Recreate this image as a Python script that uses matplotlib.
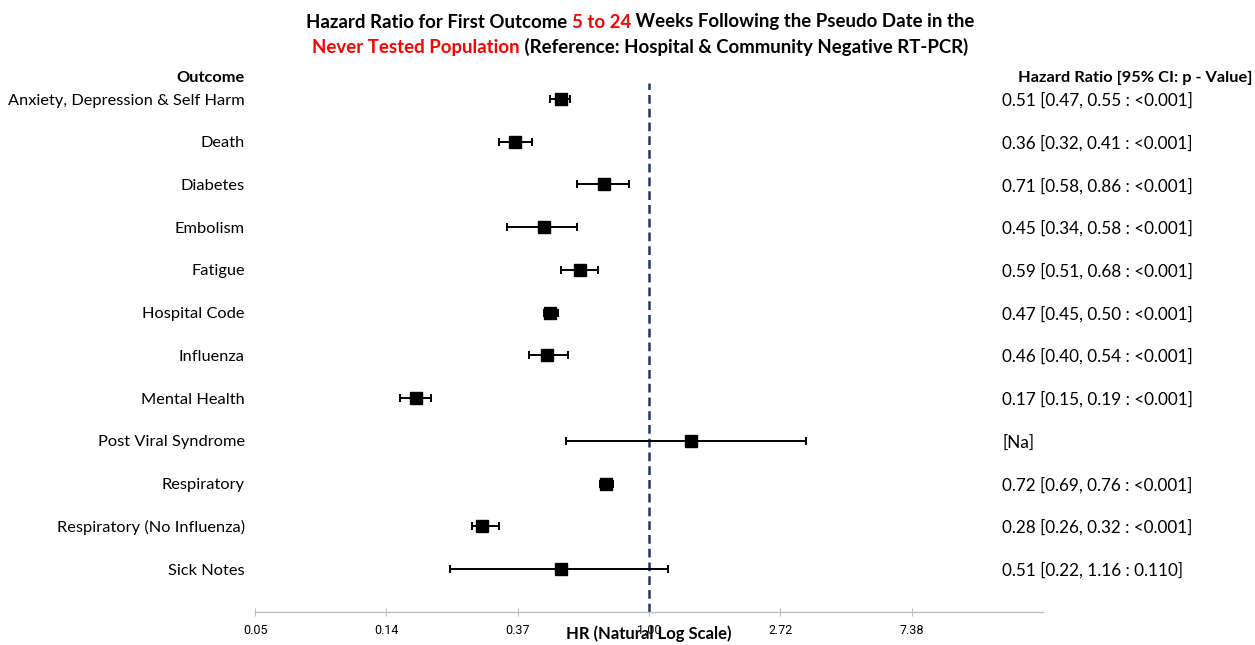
import numpy as np
import matplotlib
matplotlib.use("Agg")
import matplotlib.pyplot as plt

outcomes = ["Anxiety, Depression & Self Harm", "Death", "Diabetes", "Embolism", "Fatigue",
            "Hospital Code", "Influenza", "Mental Health", "Post Viral Syndrome",
            "Respiratory", "Respiratory (No Influenza)", "Sick Notes"]
hr = [0.51, 0.36, 0.71, 0.45, 0.59, 0.47, 0.46, 0.17, 1.38, 0.72, 0.28, 0.51]
ci_low = [0.47, 0.32, 0.58, 0.34, 0.51, 0.45, 0.40, 0.15, 0.53, 0.69, 0.26, 0.22]
ci_high = [0.55, 0.41, 0.86, 0.58, 0.68, 0.50, 0.54, 0.19, 3.30, 0.76, 0.32, 1.16]
right_labels = ["0.51 [0.47, 0.55 : <0.001]", "0.36 [0.32, 0.41 : <0.001]",
                "0.71 [0.58, 0.86 : <0.001]", "0.45 [0.34, 0.58 : <0.001]",
                "0.59 [0.51, 0.68 : <0.001]", "0.47 [0.45, 0.50 : <0.001]",
                "0.46 [0.40, 0.54 : <0.001]", "0.17 [0.15, 0.19 : <0.001]",
                "[Na]", "0.72 [0.69, 0.76 : <0.001]", "0.28 [0.26, 0.32 : <0.001]",
                "0.51 [0.22, 1.16 : 0.110]"]
tick_logs = [-3, -2, -1, 0, 1, 2]
tick_labels = ["0.05", "0.14", "0.37", "1.00", "2.72", "7.38"]

plt.rcParams['font.family'] = ['Lato', 'DejaVu Sans']

W, H = 1255, 645
fig = plt.figure(figsize=(W / 100, H / 100), dpi=100)
ax_left, ax_right = 255 / W, 1043 / W
ax_bottom, ax_top = 1 - 612 / H, 1 - 83 / H
ax = fig.add_axes([ax_left, ax_bottom, ax_right - ax_left, ax_top - ax_bottom])

n = len(outcomes)
row_px = 42.73
y0_px = 99
y_top = -(y0_px - 83) / row_px
y_bot = (612 - y0_px) / row_px
ax.set_ylim(y_bot, y_top)
ax.set_xlim(-3, 3)

ys = np.arange(n)
lx = np.log(hr)
lo = np.log(ci_low)
hi = np.log(ci_high)
ax.errorbar(lx, ys, xerr=[lx - lo, hi - lx], fmt='s', color='black', ecolor='black',
            markersize=9, elinewidth=1.4, capsize=3, capthick=1.4, zorder=3)
ax.axvline(0, color='#1f3864', lw=1.8, ls=(0, (3.5, 2)), zorder=2)

for s in ['top', 'right', 'left']:
    ax.spines[s].set_visible(False)
ax.spines['bottom'].set_color('#bfbfbf')
ax.spines['bottom'].set_linewidth(1)
ax.set_yticks([])
ax.set_xticks(tick_logs)
ax.set_xticklabels(tick_labels, fontsize=9, family=['Liberation Sans Narrow', 'Roboto', 'DejaVu Sans'])
ax.tick_params(axis='x', direction='inout', length=6, color='#bfbfbf', pad=6)
ax.set_xlabel("HR (Natural Log Scale)", fontsize=12, fontweight='bold', labelpad=-9)

for i, (name, rl) in enumerate(zip(outcomes, right_labels)):
    yf = 1 - (y0_px + 1.5 + i * row_px) / H
    fig.text(245 / W, yf, name, ha='right', va='center', fontsize=11.8)
    fig.text(1002 / W, yf, rl, ha='left', va='center', fontsize=12.3)

fig.text(245 / W, 1 - 78 / H, "Outcome", ha='right', va='center', fontsize=11.8, fontweight='bold')
fig.text(1018 / W, 1 - 78 / H, "Hazard Ratio [95% CI: p - Value]", ha='left', va='center',
         fontsize=11.8, fontweight='bold')

renderer = fig.canvas.get_renderer()
def colored_line(parts, yfrac, cx_px=640, fs=13.4):
    texts = []
    widths = []
    for s, c in parts:
        t = fig.text(0, yfrac, s, color=c, fontsize=fs, fontweight='bold', ha='left', va='center')
        bb = t.get_window_extent(renderer=renderer)
        texts.append(t)
        widths.append(bb.width)
    total = sum(widths)
    x = cx_px - total / 2
    for t, w in zip(texts, widths):
        t.set_x(x / W)
        x += w

colored_line([("Hazard Ratio for First Outcome ", 'black'), ("5 to 24", 'red'),
              (" Weeks Following the Pseudo Date in the", 'black')], 1 - 22 / H)
colored_line([("Never Tested Population", 'red'),
              (" (Reference: Hospital & Community Negative RT-PCR)", 'black')], 1 - 47 / H)

fig.savefig("out.png", dpi=100)
